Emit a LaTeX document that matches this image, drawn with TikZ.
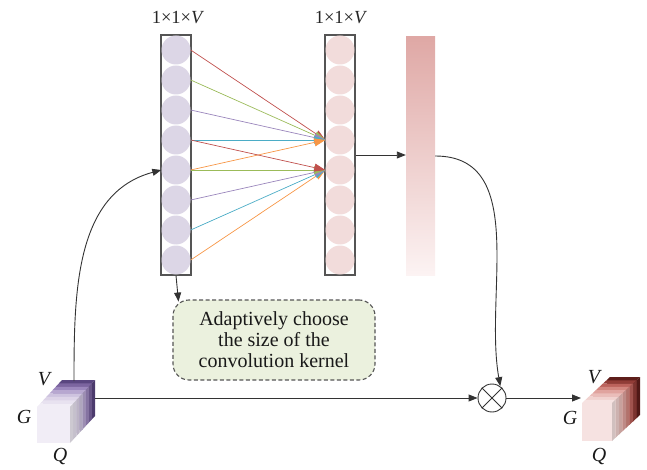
\documentclass[tikz,border=0pt]{standalone}
\usepackage{fontspec}
\setmainfont{Liberation Serif}
\usetikzlibrary{arrows.meta,calc}
\definecolor{cred}{HTML}{C0504D}
\definecolor{cgreen}{HTML}{9BBB59}
\definecolor{cpurple}{HTML}{9A86BC}
\definecolor{ccyan}{HTML}{4BACC6}
\definecolor{corange}{HTML}{F79646}
\definecolor{lcircfill}{HTML}{DCD6E6}
\definecolor{rcircfill}{HTML}{F2DCDB}
\definecolor{bartop}{HTML}{DFA8A5}
\definecolor{barbot}{HTML}{FCF3F3}
\definecolor{boxfill}{HTML}{EBF1DE}
\definecolor{framegray}{HTML}{555555}
% slice colours, front (0) to back (7)
\definecolor{lsl0}{HTML}{F1EDF6}
\definecolor{lsl1}{HTML}{E8E2F0}
\definecolor{lsl2}{HTML}{DDD4E8}
\definecolor{lsl3}{HTML}{CEC3DF}
\definecolor{lsl4}{HTML}{B7A7D0}
\definecolor{lsl5}{HTML}{9C87BD}
\definecolor{lsl6}{HTML}{7C65A0}
\definecolor{lsl7}{HTML}{5A4680}
\definecolor{rsl0}{HTML}{F6E2E1}
\definecolor{rsl1}{HTML}{F1D2CF}
\definecolor{rsl2}{HTML}{EABDB9}
\definecolor{rsl3}{HTML}{E0A39E}
\definecolor{rsl4}{HTML}{D2867F}
\definecolor{rsl5}{HTML}{BC625C}
\definecolor{rsl6}{HTML}{913C37}
\definecolor{rsl7}{HTML}{5E1E1B}
\newcommand\slicedcube[7]{%
  \foreach \i in {7,6,...,0}{%
    \pgfmathsetmacro\ax{#1+\i*#5/8}%
    \pgfmathsetmacro\ay{#2+\i*#6/8}%
    \pgfmathsetmacro\bx{#1+(\i+1)*#5/8}%
    \pgfmathsetmacro\by{#2+(\i+1)*#6/8}%
    \colorlet{slicecol}{#7\i}%
    \fill[slicecol] (\ax,\ay-#4) -- (\ax+#3,\ay-#4) -- (\bx+#3,\by-#4) -- (\bx,\by-#4) -- cycle;
    \fill[slicecol!85!black] (\ax+#3,\ay) -- (\ax+#3,\ay-#4) -- (\bx+#3,\by-#4) -- (\bx+#3,\by) -- cycle;
    \fill[slicecol] (\ax,\ay) rectangle (\ax+#3,\ay-#4);
  }}
\begin{document}
\begin{tikzpicture}[x=1pt,y=-1pt,
  colbox/.style={draw=framegray, line width=1.1pt, fill=white, minimum width=30pt, minimum height=240pt, inner sep=0pt},
  lcirc/.style={circle, fill=lcircfill, minimum size=29pt, inner sep=0pt},
  rcirc/.style={circle, fill=rcircfill, minimum size=29pt, inner sep=0pt},
  carrow/.style={-{Triangle[length=11pt,width=8pt]}, line width=0.7pt},
  arr/.style={-{Triangle[length=9pt,width=7pt]}, line width=0.9pt, draw=black!80},
  toplab/.style={font=\fontsize{18.5}{18.5}\selectfont, anchor=base, inner sep=0pt, text=black!85},
  clab/.style={font=\fontsize{20}{20}\selectfont, inner sep=0pt, text=black!90},
  kbox/.style={draw=framegray, dashed, dash pattern=on 4pt off 2.5pt, line width=1.1pt, fill=boxfill, rounded corners=16pt, minimum width=202pt, minimum height=80pt, align=center, font=\fontsize{20}{21}\selectfont, text=black!90}
]
\useasboundingbox (0,0) rectangle (647,470);

% columns
\node[colbox] (lcol) at (176,155) {};
\node[colbox] (rcol) at (340,155) {};
\foreach \k in {1,...,8}{
  \node[lcirc] (l\k) at (176,20+30*\k) {};
  \node[rcirc] (r\k) at (340,20+30*\k) {};
}
\node[toplab] (ltop) at (178,24) {1×1×\textit{V}};
\node[toplab] (rtop) at (341,24) {1×1×\textit{V}};

% colored connections
\draw[carrow, cred] (l1.east) -- (r4.west);
\draw[carrow, cgreen] (l2.east) -- (r4.west);
\draw[carrow, cpurple] (l3.east) -- (r4.west);
\draw[carrow, ccyan] (l4.east) -- (r4.west);
\draw[carrow, corange] (l5.east) -- (r4.west);
\draw[carrow, corange] (l8.east) -- (r5.west);
\draw[carrow, ccyan] (l7.east) -- (r5.west);
\draw[carrow, cpurple] (l6.east) -- (r5.west);
\draw[carrow, cgreen] (l5.east) -- (r5.west);
\draw[carrow, cred] (l4.east) -- (r5.west);

% gradient bar
\node[minimum width=29pt, minimum height=238pt, inner sep=0pt, top color=bartop, bottom color=barbot, draw=none] (bar) at (420.5,156) {};
\draw[arr] (rcol.east) -- (rcol.east -| bar.west);

% kernel box
\node[kbox] (box) at (274,340) {Adaptively choose\\the size of the\\convolution kernel};
\draw[arr] (lcol.south) -- ++(2.5,26);

% cubes
\slicedcube{37}{443}{33}{36}{25}{-27}{lsl}
\slicedcube{582}{441}{30}{38}{28}{-26}{rsl}
\node[clab] (lv) at (45,379) {\textit{V}};
\node[clab] (lg) at (24,417) {\textit{G}};
\node[clab] (lq) at (60,456) {\textit{Q}};
\node[clab] (rv) at (595,377) {\textit{V}};
\node[clab] (rg) at (570,418) {\textit{G}};
\node[clab] (rq) at (599,456) {\textit{Q}};

% otimes
\node[circle, draw=black!80, line width=0.9pt, minimum size=28pt, inner sep=0pt] (ot) at (492,398) {};
\draw[line width=0.9pt, black!80] (ot.45) -- (ot.225) (ot.135) -- (ot.315);

\coordinate (lcubetop) at (74,381);
\coordinate (lcuberight) at (95,398);
\coordinate (rcubeleft) at (581,398);
\draw[arr] (lcubetop) to[out=90,in=195] (l5.west);
\draw[arr] (lcuberight) -- (ot.west);
\draw[arr] (ot.east) -- (rcubeleft);
\draw[arr] (bar.east) to[out=0,in=100] (ot.55);
\end{tikzpicture}
\end{document}
